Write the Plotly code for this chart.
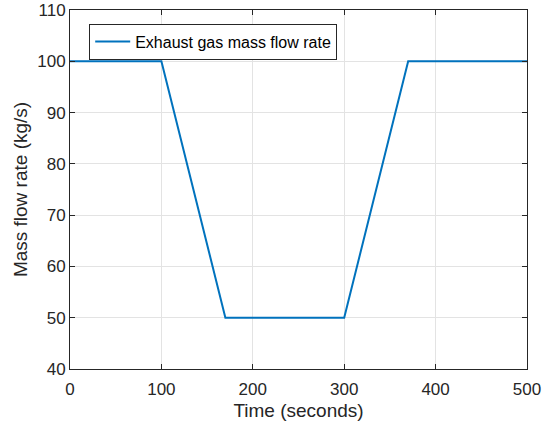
import plotly.graph_objects as go

# Exhaust gas mass flow profile
time_s = [0, 100, 170, 300, 370, 500]
flow_kgs = [100, 100, 50, 50, 100, 100]

x_ticks = [0, 100, 200, 300, 400, 500]
y_ticks = [40, 50, 60, 70, 80, 90, 100, 110]

axis_color = "#262626"
grid_color = "#e3e3e3"
font_family = "Liberation Sans, Arial, sans-serif"

fig = go.Figure()
fig.add_trace(go.Scatter(
    x=time_s, y=flow_kgs, mode="lines",
    name="Exhaust gas mass flow rate",
    line=dict(color="#0072BD", width=2),
))

axis_common = dict(
    showline=True, linecolor=axis_color, linewidth=1, mirror="ticks",
    ticks="inside", ticklen=5, tickwidth=1, tickcolor=axis_color,
    showgrid=True, gridcolor=grid_color, gridwidth=1,
    zeroline=False, automargin=False,
    tickfont=dict(family=font_family, size=17, color=axis_color),
)

fig.update_xaxes(
    range=[0, 500], tickvals=x_ticks, ticklabelstandoff=5,
    title=dict(text="Time (seconds)", font=dict(family=font_family, size=19, color=axis_color), standoff=5),
    **axis_common,
)
fig.update_yaxes(
    range=[40, 110], tickvals=y_ticks, ticklabelstandoff=0,
    title=dict(text="Mass flow rate (kg/s)", font=dict(family=font_family, size=19, color=axis_color), standoff=4),
    **axis_common,
)

fig.update_layout(
    width=545, height=429,
    margin=dict(l=70, r=18, t=10, b=60),
    paper_bgcolor="white", plot_bgcolor="white",
    showlegend=True,
    legend=dict(
        x=0.042, y=0.962, xanchor="left", yanchor="top",
        bgcolor="white", bordercolor=axis_color, borderwidth=1,
        font=dict(family=font_family, size=16, color="black"),
        itemwidth=35,
    ),
)

fig.write_html("out.html")
